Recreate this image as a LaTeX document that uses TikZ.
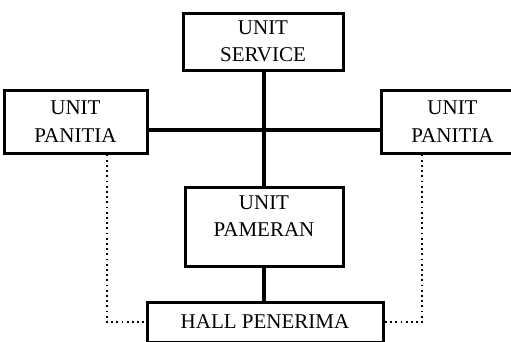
\documentclass[tikz,border=0pt]{standalone}
\usepackage{fontspec}
\setmainfont{Liberation Serif}
\begin{document}
\begin{tikzpicture}[x=1pt,y=-1pt]
		
		% Gaya node
		\tikzset{
			unitbox/.style={
				rectangle,
				draw,
				line width=3pt,
				align=center,
				inner sep=0pt,
				font=\fontsize{21}{27.5}\selectfont
			},
			garis/.style={line width=3.2pt},
			titik/.style={line width=1.8pt, dash pattern=on 1.8pt off 3.4pt}
		}
		
		\useasboundingbox (0,0) rectangle (511,341);
		\clip (0,0) rectangle (511,341);
		
		% Node
		\node[unitbox, minimum width=160, minimum height=57] (service) at (263,41.5) {UNIT\\SERVICE};
		\node[unitbox, minimum width=143, minimum height=63] (panitiaL) at (75.5,121.5) {UNIT\\PANITIA};
		\node[unitbox, minimum width=143, minimum height=63] (panitiaR) at (452.5,121.5) {UNIT\\PANITIA};
		\node[unitbox, minimum width=158, minimum height=79, text depth=21pt] (pameran) at (264,226.5) {UNIT\\PAMERAN};
		\node[unitbox, minimum width=236, minimum height=40] (hall) at (265,322) {HALL PENERIMA};
		\coordinate (hub) at (264,130);
		
		% Garis
		\draw[garis] (service.south -| hub) -- (pameran.north -| hub);
		\draw[garis] (panitiaL.east |- hub) -- (panitiaR.west |- hub);
		\draw[garis] (pameran.south -| hub) -- (hall.north -| hub);
		\draw[titik] ([xshift=31.5]panitiaL.south) |- (hall.west);
		\draw[titik] ([xshift=-30.5]panitiaR.south) |- (hall.east);
		
	\end{tikzpicture}
\end{document}
